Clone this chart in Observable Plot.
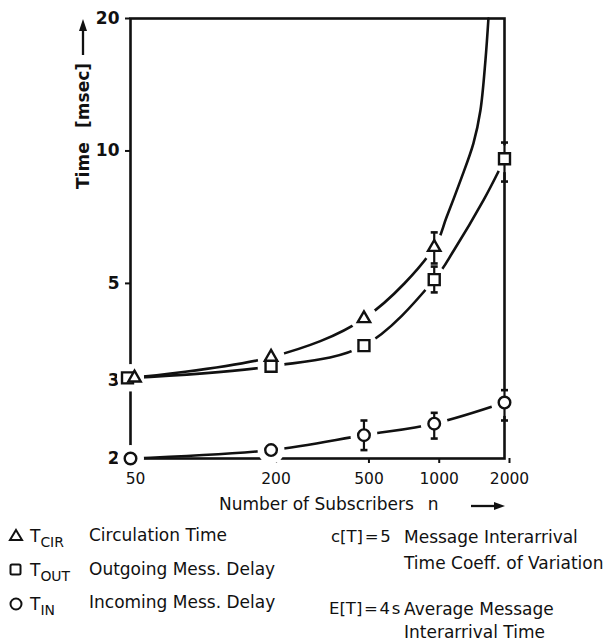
<!DOCTYPE html>
<html>
<head>
<meta charset="utf-8">
<script src="https://cdn.jsdelivr.net/npm/d3@7"></script>
<script src="https://cdn.jsdelivr.net/npm/@observablehq/plot@0.6"></script>
<style>
  body { margin: 0; background: white; }
  #wrap { position: relative; width: 616px; height: 641px; background: white; overflow: hidden;
          font-family: "DejaVu Sans", sans-serif; color: #111; }
  .t { position: absolute; white-space: pre; line-height: 20px; height: 20px; }
  sub { font-size: 0.82em; vertical-align: -0.38em; line-height: 0; }
</style>
</head>
<body>
<div id="wrap"></div>
<script>
// ---- data ----
const subscribers = [50, 200, 500, 1000, 2000];
const tCir = [3.05, 3.40, 4.16, 6.04, null];   // 2000: off the chart (above 20 ms)
const tOut = [3.05, 3.24, 3.61, 5.10, 9.6];
const tIn  = [2.00, 2.09, 2.26, 2.40, 2.68];

// confidence intervals (lo, hi) where drawn
const errCirN = [1000];        const errCirLo = [5.55];             const errCirHi = [6.53];
const errOutN = [1000, 2000];  const errOutLo = [4.77, 8.52];       const errOutHi = [5.46, 10.45];
const errInN  = [500, 1000, 2000]; const errInLo = [2.09, 2.22, 2.44]; const errInHi = [2.44, 2.54, 2.86];

// extra points
const cirCurveN = [1128, 1295, 1472, 1577, 1657, 1707];
const cirCurveT = [7.06, 8.56, 10.4, 12.36, 16.05, 20];
const outCurveN = [1220, 1624, 1884];
const outCurveT = [5.97, 7.72, 8.98];

const xTicks = [50, 200, 500, 1000, 2000];
const yTicks = [2, 3, 5, 10, 20];

// ---- tables ----
const pts = (ns, ts) => ns.map((n, i) => ({n, t: ts[i]})).filter(d => d.t != null);
const cirPts = pts(subscribers, tCir);
const outPts = pts(subscribers, tOut);
const inPts  = pts(subscribers, tIn);
const cirLine = cirPts.concat(pts(cirCurveN, cirCurveT)).sort((a, b) => a.n - b.n);
const outLine = outPts.concat(pts(outCurveN, outCurveT)).sort((a, b) => a.n - b.n);
const inLine = inPts;
const errs = [
  ...errCirN.map((n, i) => ({n, lo: errCirLo[i], hi: errCirHi[i]})),
  ...errOutN.map((n, i) => ({n, lo: errOutLo[i], hi: errOutHi[i]})),
  ...errInN.map((n, i) => ({n, lo: errInLo[i], hi: errInHi[i]}))
];
const capSym = {draw(ctx, size) { const r = Math.sqrt(size / Math.PI); ctx.moveTo(-r, 0); ctx.lineTo(r, 0); }};
const allMarkers = cirPts.concat(outPts, inPts);

const SW = 2.6;
const chart = Plot.plot({
  width: 616, height: 520,
  marginLeft: 130, marginRight: 112, marginTop: 18, marginBottom: 62,
  style: {fontFamily: '"DejaVu Sans", sans-serif', background: "white", color: "#111"},
  x: {type: "log", domain: [50, 2000]},
  y: {type: "log", domain: [2, 20]},
  marks: [
    Plot.frame({stroke: "#111", strokeWidth: SW}),
    Plot.axisY({ticks: yTicks, tickFormat: d => String(d), tickSize: 5, tickPadding: 6,
                fontSize: 17, fontWeight: "bold", label: null, strokeWidth: 2}),
    Plot.axisX({ticks: xTicks, tickFormat: d => String(d), tickSize: 5, tickPadding: 9,
                fontSize: 15.5, label: null, strokeWidth: 2, dx: 5}),
    Plot.line(cirLine, {x: "n", y: "t", curve: "catmull-rom", stroke: "#111", strokeWidth: SW}),
    Plot.line(outLine, {x: "n", y: "t", curve: "catmull-rom", stroke: "#111", strokeWidth: SW}),
    Plot.line(inLine, {x: "n", y: "t", curve: "catmull-rom", stroke: "#111", strokeWidth: SW}),
    // white gaps around the markers (halo drawn as a thick white outline)
    Plot.dot(allMarkers, {x: "n", y: "t", r: 7, fill: "white", stroke: "white", strokeWidth: 13}),
    // error bars
    Plot.ruleX(errs, {x: "n", y1: "lo", y2: "hi", stroke: "#111", strokeWidth: 2.2}),
    Plot.dot(errs, {x: "n", y: "lo", symbol: capSym, r: 3.5, stroke: "#111", strokeWidth: 2.6, fill: "none"}),
    Plot.dot(errs, {x: "n", y: "hi", symbol: capSym, r: 3.5, stroke: "#111", strokeWidth: 2.6, fill: "none"}),
    // markers
    Plot.dot(outPts.filter(d => d.n === 50), {x: "n", y: "t", symbol: "square", r: 6.2, dx: -3, fill: "white", stroke: "#111", strokeWidth: 2.4}),
    Plot.dot(outPts.filter(d => d.n !== 50), {x: "n", y: "t", symbol: "square", r: 6.2, fill: "white", stroke: "#111", strokeWidth: 2.4}),
    Plot.dot(cirPts.filter(d => d.n === 50), {x: "n", y: "t", symbol: "triangle", r: 4.6, dx: 4, fill: "white", stroke: "#111", strokeWidth: 2.4}),
    Plot.dot(cirPts.filter(d => d.n !== 50), {x: "n", y: "t", symbol: "triangle", r: 4.6, fill: "white", stroke: "#111", strokeWidth: 2.4}),
    Plot.dot(inPts, {x: "n", y: "t", symbol: "circle", r: 5.8, fill: "white", stroke: "#111", strokeWidth: 2.4})
  ]
});

const wrap = document.getElementById("wrap");
wrap.appendChild(chart);
chart.style.position = "absolute"; chart.style.left = "0px"; chart.style.top = "0px";

function place(html, x, yc, opts = {}) {
  const d = document.createElement("div");
  d.className = "t";
  d.innerHTML = html;
  d.style.left = x + "px";
  d.style.top = (yc - 10) + "px";
  d.style.fontSize = (opts.size || 17) + "px";
  if (opts.weight) d.style.fontWeight = opts.weight;
  if (opts.style) Object.assign(d.style, opts.style);
  wrap.appendChild(d);
  return d;
}
function svgEl(x, y, w, h, inner) {
  const d = document.createElement("div");
  d.style.position = "absolute"; d.style.left = x + "px"; d.style.top = y + "px";
  d.innerHTML = `<svg width="${w}" height="${h}" xmlns="http://www.w3.org/2000/svg">${inner}</svg>`;
  wrap.appendChild(d);
}

// y axis label (rotated) and arrow
place("Time&#8194; [msec]", 23, 129, {size: 17, weight: "bold",
  style: {width: "120px", textAlign: "center", transform: "rotate(-90deg)", transformOrigin: "60px 10px"}});
svgEl(75, 18, 16, 40, '<line x1="8" y1="37" x2="8" y2="10" stroke="#111" stroke-width="2.3"/><path d="M8 1 L4 13 L12 13 Z" fill="#111"/>');

// x axis label and arrow
place("Number of Subscribers&#8194; n", 219, 504, {size: 17});
svgEl(470, 497, 36, 12, '<line x1="1" y1="6" x2="26" y2="6" stroke="#111" stroke-width="2.3"/><path d="M35 6 L24 2 L24 10 Z" fill="#111"/>');

// legend symbols
svgEl(7, 527, 18, 18, '<path d="M9 3 L15 13 L3 13 Z" fill="none" stroke="#111" stroke-width="2"/>');
svgEl(7, 561, 18, 18, '<rect x="3.5" y="3.5" width="10" height="10" rx="1.5" fill="none" stroke="#111" stroke-width="2"/>');
svgEl(7, 595, 18, 18, '<circle cx="9" cy="9" r="5.5" fill="none" stroke="#111" stroke-width="2"/>');

// legend texts
place("T<sub>CIR</sub>", 30, 536);
place("Circulation Time", 89, 535);
place("T<sub>OUT</sub>", 30, 570);
place("Outgoing Mess. Delay", 89, 569);
place("T<sub>IN</sub>", 30, 604);
place("Incoming Mess. Delay", 89, 602);

place("c[T]&#8202;=&#8202;5", 331, 537, {size: 16.5});
place("Message Interarrival", 404, 537);
place("Time Coeff. of Variation", 404, 563);
place("E[T]&#8202;=&#8202;4&#8202;s", 329, 609, {size: 16.5});
place("Average Message", 404, 609);
place("Interarrival Time", 404, 632);
</script>
</body>
</html>
